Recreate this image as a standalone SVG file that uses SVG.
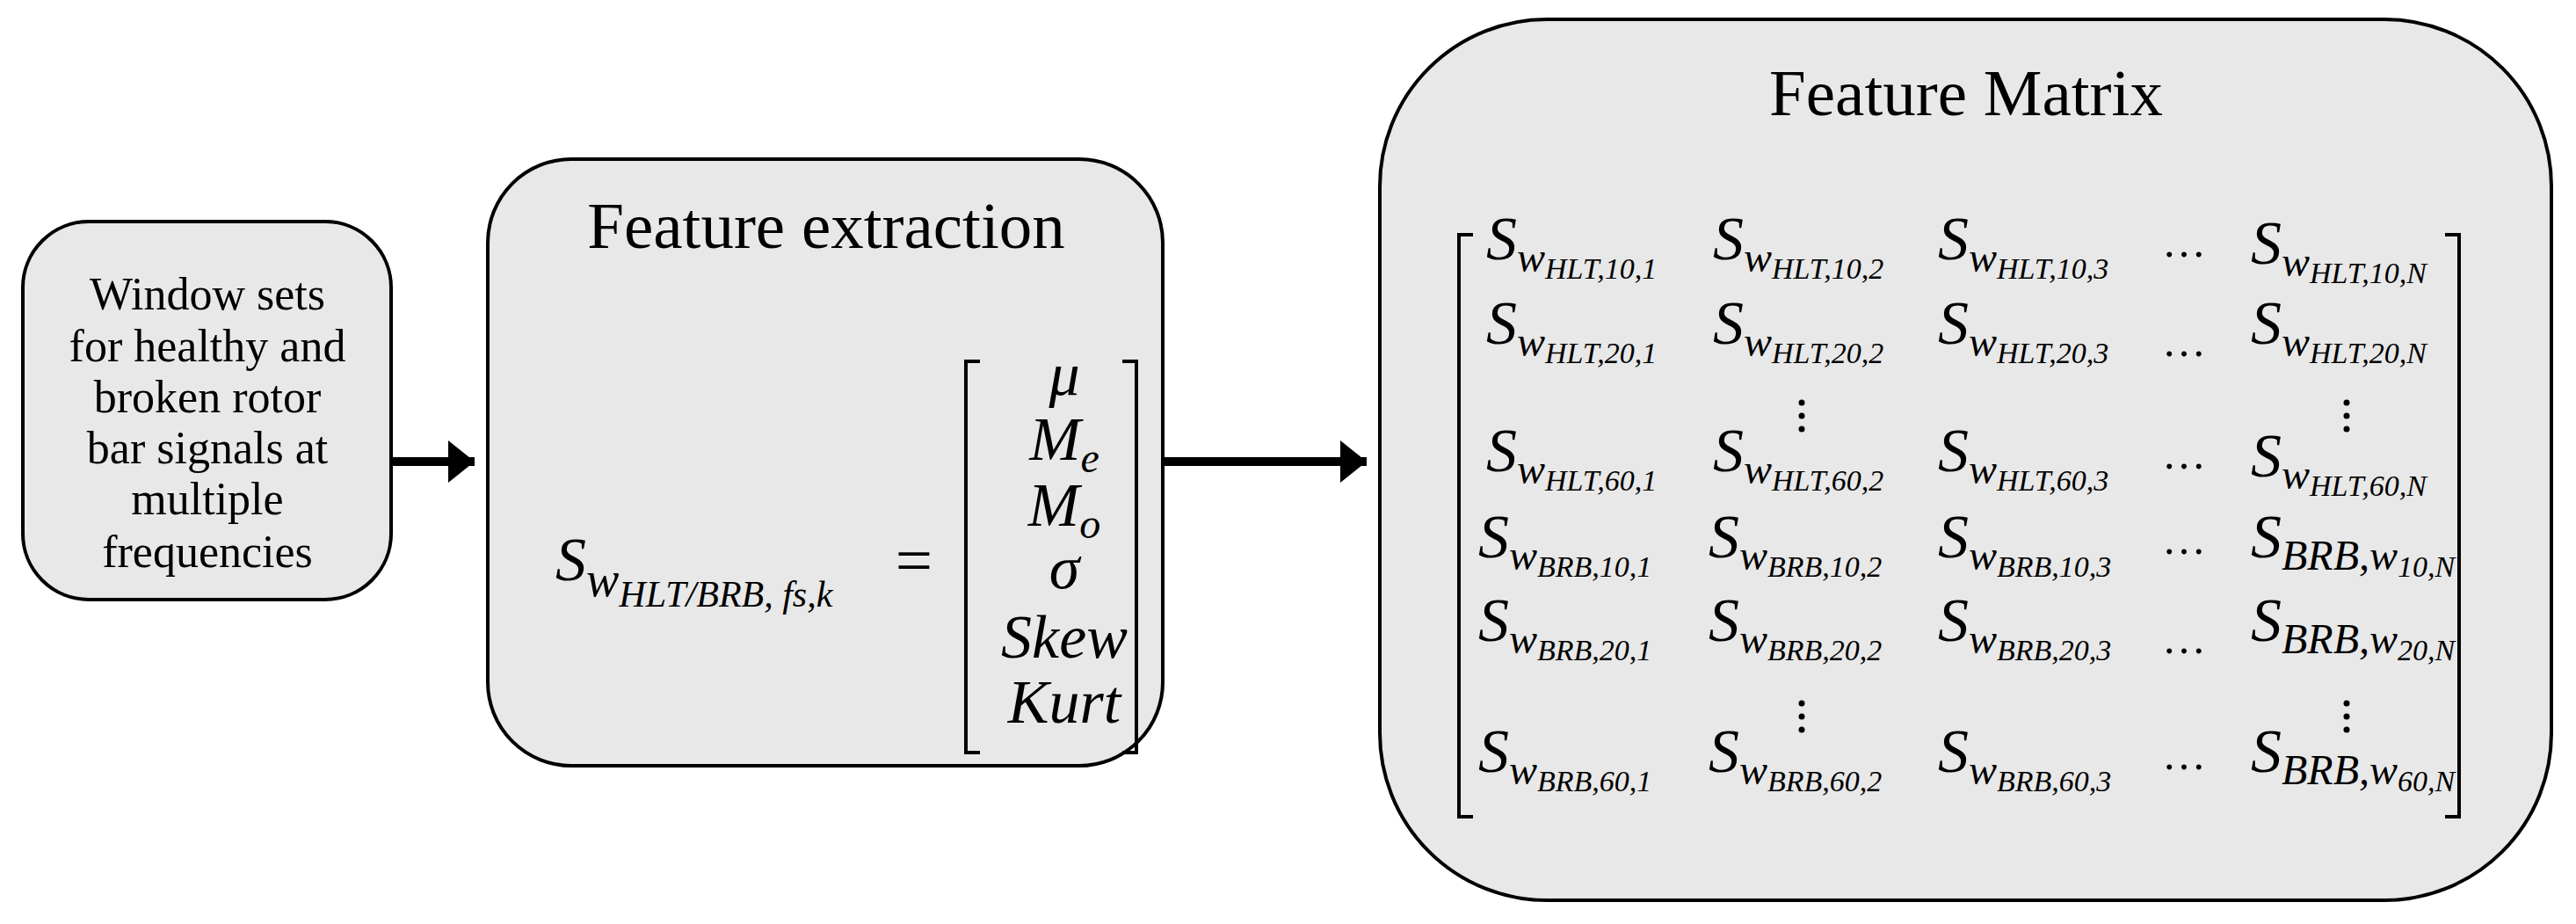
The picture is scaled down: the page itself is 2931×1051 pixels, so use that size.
<svg xmlns="http://www.w3.org/2000/svg" width="2931" height="1051" viewBox="0 0 2931 1051">
<style>
.box{fill:#e8e8e8;stroke:#000;stroke-width:4}
.t{font-family:"Liberation Serif",serif;fill:#000}
.m{font-family:"Liberation Serif",serif;font-style:italic;fill:#000;font-size:70px}
.br{fill:none;stroke:#000;stroke-width:4}
.w{font-size:48px}
.s{font-size:34px}
</style>
<defs><marker id="ah" markerWidth="6" markerHeight="6" refX="3" refY="3" orient="auto" markerUnits="strokeWidth"><path d="M0,0.6 L3,3 L0,5.4 Z" fill="#000"/></marker></defs>
<rect width="2931" height="1051" fill="#fff"/>
<g id="connectors">
<line x1="445" y1="525" x2="540" y2="525" stroke="#000" stroke-width="10" marker-end="url(#ah)"/>
<line x1="1323" y1="525" x2="1555" y2="525" stroke="#000" stroke-width="10" marker-end="url(#ah)"/>
</g>
<g id="input">
<rect class="box" x="26" y="252" width="419" height="430" rx="75"/>
<text font-family="Liberation Serif, serif" font-size="52" text-anchor="middle" fill="#000">
<tspan x="236" y="352">Window sets</tspan><tspan x="236" y="411">for healthy and</tspan><tspan x="236" y="469">broken rotor</tspan><tspan x="236" y="527">bar signals at</tspan><tspan x="236" y="585">multiple</tspan><tspan x="236" y="645">frequencies</tspan></text>
</g>
<g id="extraction">
<rect class="box" x="555" y="181" width="768" height="690" rx="95"/>
<text class="t" font-size="75" text-anchor="middle" x="940" y="282">Feature extraction</text>
<text class="m" x="632" y="660" font-size="80">S<tspan font-size="56" dy="18">w</tspan><tspan font-size="42" dy="12">HLT/BRB, fs,k</tspan></text>
<text class="t" font-size="75" x="1040" y="662" text-anchor="middle">=</text>
<path class="br" d="M1115,411 H1099 V856 H1115 M1277,411 H1293 V856 H1277"/>
<g text-anchor="middle">
<text class="m" x="1211" y="449">μ</text>
<text class="m" x="1211" y="523">M<tspan class="w" dy="14">e</tspan></text>
<text class="m" x="1211" y="598">M<tspan class="w" dy="14">o</tspan></text>
<text class="m" x="1211" y="669">σ</text>
<text class="m" x="1211" y="748">Skew</text>
<text class="m" x="1211" y="822">Kurt</text>
</g>
</g>
<g id="matrix">
<rect class="box" x="1570" y="22" width="1333" height="1002" rx="190"/>
<text class="t" font-size="75" text-anchor="middle" x="2237" y="131">Feature Matrix</text>
<path class="br" d="M1676,267 H1660 V929 H1676 M2782,267 H2798 V929 H2782"/>
<g>
<text class="m" x="1691" y="295">S<tspan class="w" dy="14">w</tspan><tspan class="s" dy="8">HLT,10,1</tspan></text>
<text class="m" x="1949" y="295">S<tspan class="w" dy="14">w</tspan><tspan class="s" dy="8">HLT,10,2</tspan></text>
<text class="m" x="2205" y="295">S<tspan class="w" dy="14">w</tspan><tspan class="s" dy="8">HLT,10,3</tspan></text>
<text class="m" x="2561" y="300">S<tspan class="w" dy="14">w</tspan><tspan class="s" dy="8">HLT,10,N</tspan></text>
<text class="m" x="1691" y="391">S<tspan class="w" dy="14">w</tspan><tspan class="s" dy="8">HLT,20,1</tspan></text>
<text class="m" x="1949" y="391">S<tspan class="w" dy="14">w</tspan><tspan class="s" dy="8">HLT,20,2</tspan></text>
<text class="m" x="2205" y="391">S<tspan class="w" dy="14">w</tspan><tspan class="s" dy="8">HLT,20,3</tspan></text>
<text class="m" x="2561" y="391">S<tspan class="w" dy="14">w</tspan><tspan class="s" dy="8">HLT,20,N</tspan></text>
<text class="m" x="1691" y="536">S<tspan class="w" dy="14">w</tspan><tspan class="s" dy="8">HLT,60,1</tspan></text>
<text class="m" x="1949" y="536">S<tspan class="w" dy="14">w</tspan><tspan class="s" dy="8">HLT,60,2</tspan></text>
<text class="m" x="2205" y="536">S<tspan class="w" dy="14">w</tspan><tspan class="s" dy="8">HLT,60,3</tspan></text>
<text class="m" x="2561" y="542">S<tspan class="w" dy="14">w</tspan><tspan class="s" dy="8">HLT,60,N</tspan></text>
<text class="m" x="1682" y="634">S<tspan class="w" dy="14">w</tspan><tspan class="s" dy="8">BRB,10,1</tspan></text>
<text class="m" x="1944" y="634">S<tspan class="w" dy="14">w</tspan><tspan class="s" dy="8">BRB,10,2</tspan></text>
<text class="m" x="2205" y="634">S<tspan class="w" dy="14">w</tspan><tspan class="s" dy="8">BRB,10,3</tspan></text>
<text class="m" x="2561" y="634">S<tspan class="w" dy="14">BRB,w</tspan><tspan class="s" dy="8">10,N</tspan></text>
<text class="m" x="1682" y="729">S<tspan class="w" dy="14">w</tspan><tspan class="s" dy="8">BRB,20,1</tspan></text>
<text class="m" x="1944" y="729">S<tspan class="w" dy="14">w</tspan><tspan class="s" dy="8">BRB,20,2</tspan></text>
<text class="m" x="2205" y="729">S<tspan class="w" dy="14">w</tspan><tspan class="s" dy="8">BRB,20,3</tspan></text>
<text class="m" x="2561" y="729">S<tspan class="w" dy="14">BRB,w</tspan><tspan class="s" dy="8">20,N</tspan></text>
<text class="m" x="1682" y="878">S<tspan class="w" dy="14">w</tspan><tspan class="s" dy="8">BRB,60,1</tspan></text>
<text class="m" x="1944" y="878">S<tspan class="w" dy="14">w</tspan><tspan class="s" dy="8">BRB,60,2</tspan></text>
<text class="m" x="2205" y="878">S<tspan class="w" dy="14">w</tspan><tspan class="s" dy="8">BRB,60,3</tspan></text>
<text class="m" x="2561" y="878">S<tspan class="w" dy="14">BRB,w</tspan><tspan class="s" dy="8">60,N</tspan></text>
</g>
<g class="t" font-size="50" text-anchor="middle">
<text x="2485" y="292">…</text><text x="2485" y="405">…</text><text x="2485" y="533">…</text>
<text x="2485" y="630">…</text><text x="2485" y="743">…</text><text x="2485" y="875">…</text>
</g>
<g fill="#000">
<circle cx="2050" cy="458" r="3.5"/><circle cx="2050" cy="473" r="3.5"/><circle cx="2050" cy="488" r="3.5"/>
<circle cx="2670" cy="458" r="3.5"/><circle cx="2670" cy="473" r="3.5"/><circle cx="2670" cy="488" r="3.5"/>
<circle cx="2050" cy="800" r="3.5"/><circle cx="2050" cy="815" r="3.5"/><circle cx="2050" cy="830" r="3.5"/>
<circle cx="2670" cy="800" r="3.5"/><circle cx="2670" cy="815" r="3.5"/><circle cx="2670" cy="830" r="3.5"/>
</g>
</g>
</svg>
